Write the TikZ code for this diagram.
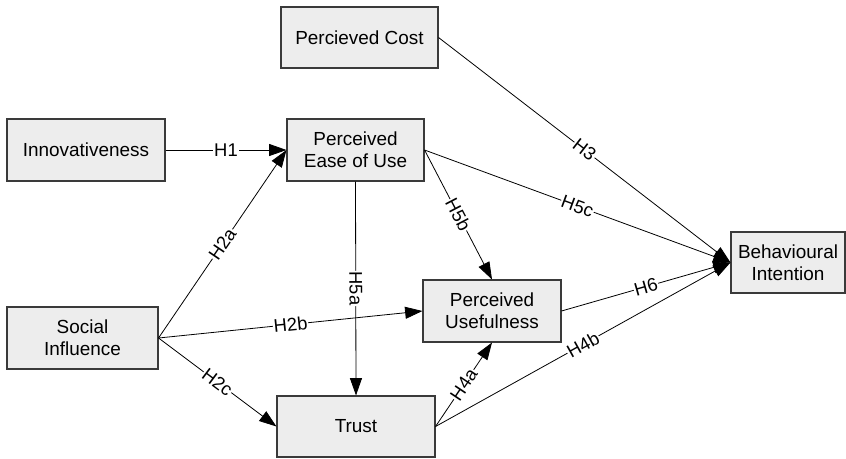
\documentclass[tikz,border=0pt]{standalone}
\usepackage{fontspec}
\setmainfont{Liberation Sans}
\usetikzlibrary{arrows.meta}
\definecolor{boxfill}{HTML}{EDEDED}
\definecolor{boxline}{HTML}{3A3A3A}
\tikzset{
  construct/.style={draw=boxline, fill=boxfill, line width=0.8pt, align=center,
    inner sep=0pt, font=\fontsize{14.2pt}{16.6pt}\selectfont},
  path/.style={draw=black, line width=0.6pt, -{Triangle[length=13pt, width=9pt]}},
  hyp/.style={midway, sloped, fill=white, inner sep=0.6pt,
    font=\fontsize{13.8pt}{16pt}\selectfont}
}
\begin{document}
\begin{tikzpicture}[x=0.75pt, y=-0.75pt]
  \useasboundingbox (0,0) rectangle (846,458);

  % constructs
  \node[construct, minimum width=117.75pt, minimum height=45.75pt] (pc)   at (359.5,37.5) {Percieved Cost};
  \node[construct, minimum width=118.5pt,  minimum height=46.5pt]  (inn)  at (86,150)     {Innovativeness};
  \node[construct, minimum width=102.75pt, minimum height=46.5pt]  (peou) at (355.5,150)  {Perceived\\Ease of Use};
  \node[construct, minimum width=113.25pt, minimum height=46.5pt]  (si)   at (82.5,338)   {Social\\Influence};
  \node[construct, minimum width=118.5pt,  minimum height=45.75pt] (tr)   at (356,426.5)  {Trust};
  \node[construct, minimum width=103.5pt,  minimum height=46.5pt]  (pu)   at (492,311)    {Perceived\\Usefulness};
  \node[construct, minimum width=85.5pt,   minimum height=45.75pt] (bi)   at (788,262.5)  {Behavioural\\Intention};

  % hypothesised paths
  \draw[path] (inn.east)  -- node[hyp] {H1}  (peou.west);
  \draw[path] (si.east)   -- node[hyp] {H2a} (peou.west);
  \draw[path] (si.east)   -- node[hyp] {H2b} (pu.west);
  \draw[path] (si.east)   -- node[hyp] {H2c} (tr.west);
  \draw[path] (pc.east)   -- node[hyp] {H3}  (bi.west);
  \draw[path] (tr.east)   -- node[hyp] {H4a} (pu.south);
  \draw[path] (tr.east)   -- node[hyp] {H4b} (bi.west);
  \draw[path] (peou.south) -- node[hyp] {H5a} (tr.north);
  \draw[path] (peou.east) -- node[hyp] {H5b} (pu.north);
  \draw[path] (peou.east) -- node[hyp] {H5c} (bi.west);
  \draw[path] (pu.east)   -- node[hyp] {H6}  (bi.west);
\end{tikzpicture}
\end{document}
